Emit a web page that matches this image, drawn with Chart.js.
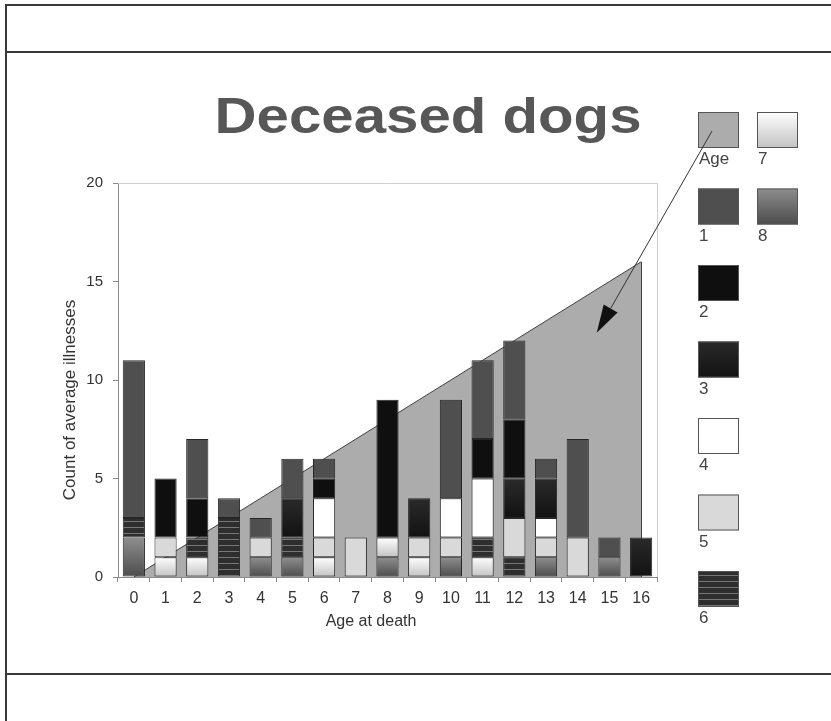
<!DOCTYPE html>
<html>
<head>
<meta charset="utf-8">
<title>Deceased dogs</title>
<script src="https://cdn.jsdelivr.net/npm/chart.js@4.4.1/dist/chart.umd.min.js"></script>
<style>
  html, body { margin: 0; padding: 0; background: #fff; }
  #slide { position: relative; width: 831px; height: 721px; overflow: hidden; background: #fff; }
  .rule { position: absolute; background: #3a3a3a; }
  canvas { position: absolute; left: 0; top: 0; }
</style>
</head>
<body>
<div id="slide">
  <div class="rule" style="left:5px;top:4px;width:826px;height:2px"></div>
  <div class="rule" style="left:5px;top:4px;width:2px;height:717px"></div>
  <div class="rule" style="left:5px;top:51px;width:826px;height:2px"></div>
  <div class="rule" style="left:5px;top:673px;width:826px;height:2px"></div>
  <canvas id="c" width="831" height="721"></canvas>
</div>
<script>
// Age at death (x categories)
const ages = ['0','1','2','3','4','5','6','7','8','9','10','11','12','13','14','15','16'];
// "Age" reference area: one unit per year of age
const ageLine = [0,1,2,3,4,5,6,7,8,9,10,11,12,13,14,15,16];
// Count of illnesses per group, by age at death
const ill1 = [8,0,3,1,1,2,1,0,0,0,5,4,4,1,5,1,0];
const ill2 = [0,3,2,0,0,0,1,0,7,0,0,2,3,0,0,0,0];
const ill3 = [0,0,0,0,0,2,0,0,0,2,0,0,2,2,0,0,2];
const ill4 = [0,0,0,0,0,0,2,0,0,0,2,3,0,1,0,0,0];
const ill5 = [0,1,0,0,1,0,1,2,0,1,1,0,2,1,2,0,0];
const ill6 = [1,0,1,3,0,1,0,0,0,0,0,1,1,0,0,0,0];
const ill7 = [0,1,1,0,0,0,1,0,1,1,0,1,0,0,0,0,0];
const ill8 = [2,0,0,0,1,1,0,0,1,0,1,0,0,1,0,1,0];
const yTicks = [0,5,10,15,20];
const legendLabels = ['Age','1','2','3','4','5','6','7','8'];

const titleText = 'Deceased dogs';
const yTitle = 'Count of average illnesses';
const xTitle = 'Age at death';

const FONT = '"Liberation Sans", Arial, Helvetica, sans-serif';
const canvas = document.getElementById('c');
const g = canvas.getContext('2d');

// horizontal hatch used by group 6
function makeStripes() {
  const p = document.createElement('canvas');
  p.width = 8; p.height = 6;
  const pc = p.getContext('2d');
  pc.fillStyle = '#2e2e2e'; pc.fillRect(0, 0, 8, 6);
  pc.fillStyle = '#777777'; pc.fillRect(0, 5, 8, 1);
  return g.createPattern(p, 'repeat');
}
const stripes = makeStripes();

const fills = {
  'Age': { kind: 'flat', c: '#acacac' },
  '1':   { kind: 'flat', c: '#4f4f4f' },
  '2':   { kind: 'flat', c: '#0f0f0f' },
  '3':   { kind: 'grad', c0: '#2a2a2a', c1: '#121212' },
  '4':   { kind: 'flat', c: '#ffffff' },
  '5':   { kind: 'flat', c: '#d9d9d9' },
  '6':   { kind: 'hatch' },
  '7':   { kind: 'grad', c0: '#ffffff', c1: '#c2c2c2' },
  '8':   { kind: 'grad', c0: '#8e8e8e', c1: '#4c4c4c' }
};

function paint(key, top, bottom) {
  const f = fills[key];
  if (f.kind === 'flat') return f.c;
  if (f.kind === 'hatch') return stripes;
  if (!(bottom > top)) return f.c1;
  const lg = g.createLinearGradient(0, top, 0, bottom);
  lg.addColorStop(0, f.c0);
  lg.addColorStop(1, f.c1);
  return lg;
}

// stacked from the bottom: group 8 first, group 1 on top
const stackOrder = [['8', ill8], ['7', ill7], ['6', ill6], ['5', ill5], ['4', ill4], ['3', ill3], ['2', ill2], ['1', ill1]];

const barSets = stackOrder.map(([label, vals], k) => ({
  type: 'bar',
  label: label,
  stack: 'illnesses',
  order: 0,
  data: vals.map(v => (v === 0 ? null : v)),
  backgroundColor: (c) => {
    const y = c.chart.scales && c.chart.scales.y;
    if (c.type !== 'data' || !y) return paint(label, 0, 1);
    const i = c.dataIndex;
    let base = 0;
    for (let j = 0; j < k; j++) base += stackOrder[j][1][i];
    return paint(label, y.getPixelForValue(base + vals[i]), y.getPixelForValue(base));
  },
  borderColor: '#262626',
  borderWidth: 1,
  borderSkipped: false,
  barPercentage: 0.7,
  categoryPercentage: 1.0
}));

const ageSet = {
  type: 'line',
  label: 'Age',
  stack: 'age',
  order: 1,
  data: ageLine,
  fill: 'origin',
  backgroundColor: fills['Age'].c,
  borderColor: '#404040',
  borderWidth: 1,
  pointRadius: 0,
  tension: 0
};

const slideDecor = {
  id: 'slideDecor',
  beforeDatasetsDraw(chart) {
    const a = chart.chartArea, ctx = chart.ctx;
    ctx.save();
    ctx.strokeStyle = '#cfcfcf';
    ctx.lineWidth = 1;
    ctx.beginPath();
    ctx.moveTo(a.left, Math.round(a.top) + 0.5);
    ctx.lineTo(Math.round(a.right) + 0.5, Math.round(a.top) + 0.5);
    ctx.lineTo(Math.round(a.right) + 0.5, a.bottom);
    ctx.stroke();
    ctx.restore();
  },
  afterDatasetDraw(chart, args) {
    if (chart.data.datasets[args.index].type !== 'line') return;
    // closing edge of the age area at the oldest age
    const ctx = chart.ctx, x = chart.scales.x, y = chart.scales.y;
    const last = ageLine.length - 1;
    const px = Math.round(x.getPixelForValue(last)) + 0.5;
    ctx.save();
    ctx.strokeStyle = '#404040';
    ctx.lineWidth = 1;
    ctx.beginPath();
    ctx.moveTo(px, y.getPixelForValue(ageLine[last]));
    ctx.lineTo(px, y.getPixelForValue(0));
    ctx.stroke();
    ctx.restore();
  },
  afterDraw(chart) {
    const ctx = chart.ctx, x = chart.scales.x, y = chart.scales.y;
    ctx.save();

    // slide title
    ctx.font = 'bold 50px ' + FONT;
    const w = ctx.measureText(titleText).width;
    ctx.save();
    ctx.translate(428, 133);
    ctx.scale(427 / w, 1);
    ctx.fillStyle = '#575757';
    ctx.textAlign = 'center';
    ctx.textBaseline = 'alphabetic';
    ctx.fillText(titleText, 0, 0);
    ctx.restore();

    // axis titles
    ctx.fillStyle = '#333333';
    ctx.font = '16px ' + FONT;
    ctx.textAlign = 'center';
    ctx.textBaseline = 'middle';
    ctx.fillText(xTitle, 371, 622);
    ctx.save();
    ctx.translate(70, 400);
    ctx.rotate(-Math.PI / 2);
    ctx.font = '17px ' + FONT;
    ctx.fillText(yTitle, 0, 0);
    ctx.restore();

    // legend: two columns of seven, label under each swatch
    const boxes = {};
    ctx.font = '17px ' + FONT;
    ctx.textAlign = 'left';
    ctx.textBaseline = 'top';
    legendLabels.forEach((lab, n) => {
      const col = Math.floor(n / 7), row = n % 7;
      const bx = 698 + col * 59, by = 112 + row * 76.5;
      boxes[lab] = { x: bx, y: by };
      ctx.fillStyle = paint(lab, by, by + 36);
      ctx.fillRect(bx, by, 41, 36);
      ctx.strokeStyle = '#555555';
      ctx.lineWidth = 1;
      ctx.strokeRect(bx + 0.5, by + 0.5, 40, 35);
      ctx.fillStyle = '#444444';
      ctx.fillText(lab, bx + 1, by + 39);
    });

    // pointer from the "Age" swatch into the age area
    const sx = boxes['Age'].x + 14, sy = boxes['Age'].y + 19;
    const tx = x.getPixelForValue(14.6), ty = y.getPixelForValue(12.4);
    const dx = tx - sx, dy = ty - sy, len = Math.hypot(dx, dy);
    const ux = dx / len, uy = dy / len;
    const headLen = 28, headHalf = 8;
    const bxp = tx - ux * headLen, byp = ty - uy * headLen;
    ctx.strokeStyle = '#333333';
    ctx.lineWidth = 1;
    ctx.beginPath();
    ctx.moveTo(sx, sy);
    ctx.lineTo(bxp, byp);
    ctx.stroke();
    ctx.fillStyle = '#111111';
    ctx.beginPath();
    ctx.moveTo(tx, ty);
    ctx.lineTo(bxp - uy * headHalf, byp + ux * headHalf);
    ctx.lineTo(bxp + uy * headHalf, byp - ux * headHalf);
    ctx.closePath();
    ctx.fill();

    ctx.restore();
  }
};

Chart.defaults.font.family = FONT;
Chart.defaults.color = '#333333';

new Chart(g, {
  data: { labels: ages, datasets: [ageSet, ...barSets] },
  options: {
    responsive: false,
    animation: false,
    events: [],
    layout: { padding: { left: 20, right: 174, top: 183, bottom: 60 } },
    plugins: {
      legend: { display: false },
      title: { display: false },
      tooltip: { enabled: false }
    },
    scales: {
      x: {
        stacked: true,
        offset: true,
        grid: { display: true, offset: true, drawOnChartArea: false, drawTicks: true, tickLength: 5, color: '#8a8a8a' },
        border: { display: true, color: '#8a8a8a' },
        ticks: { font: { size: 16 }, color: '#333333', padding: 7, maxRotation: 0, autoSkip: false },
        afterFit: (s) => { s.height = 84; }
      },
      y: {
        stacked: true,
        min: 0,
        max: 20,
        grid: { display: true, drawOnChartArea: false, drawTicks: true, tickLength: 5, color: '#8a8a8a' },
        border: { display: true, color: '#8a8a8a' },
        ticks: { font: { size: 15 }, color: '#333333', padding: 10, stepSize: 5 },
        afterBuildTicks: (s) => { s.ticks = yTicks.map(v => ({ value: v })); },
        afterFit: (s) => { s.width = 98; }
      }
    }
  },
  plugins: [slideDecor]
});
</script>
</body>
</html>
